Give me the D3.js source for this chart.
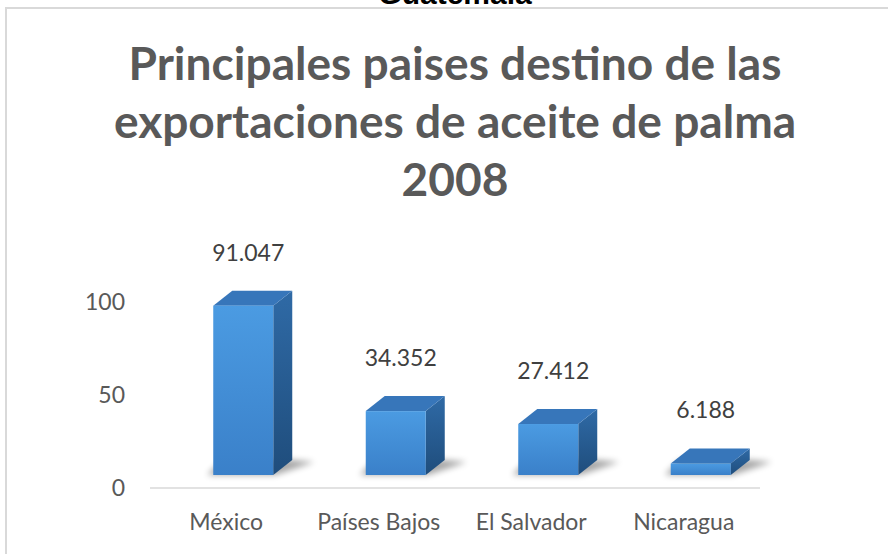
<!DOCTYPE html>
<html>
<head>
<meta charset="utf-8">
<script src="https://cdn.jsdelivr.net/npm/d3@7"></script>
<style>
  html, body { margin: 0; padding: 0; background: #fff; }
  svg { display: block; }
  text { font-family: Lato, "Open Sans", sans-serif; }
</style>
</head>
<body>
<div id="chart"></div>
<script>
// Data
const categories = ["México", "Países Bajos", "El Salvador", "Nicaragua"];
const values = [91.047, 34.352, 27.412, 6.188];
const valueLabels = ["91.047", "34.352", "27.412", "6.188"];
const yTicks = [0, 50, 100];
const titleLines = ["Principales paises destino de las", "exportaciones de aceite de palma", "2008"];
const topText = "Guatemala";

const W = 888, H = 554;
const data = categories.map((c, i) => ({cat: c, v: values[i], label: valueLabels[i]}));

const svg = d3.select("#chart").append("svg")
  .attr("width", W).attr("height", H);

const defs = svg.append("defs");
const gFront = defs.append("linearGradient").attr("id", "front")
  .attr("x1", 0).attr("y1", 0).attr("x2", 0).attr("y2", 1);
gFront.append("stop").attr("offset", "0%").attr("stop-color", "#4b9be2");
gFront.append("stop").attr("offset", "100%").attr("stop-color", "#3a80c9");
const gSide = defs.append("linearGradient").attr("id", "side")
  .attr("x1", 0).attr("y1", 0).attr("x2", 0).attr("y2", 1);
gSide.append("stop").attr("offset", "0%").attr("stop-color", "#2f6aa6");
gSide.append("stop").attr("offset", "100%").attr("stop-color", "#1f4d7c");
defs.append("filter").attr("id", "blur")
  .attr("x", "-50%").attr("y", "-50%").attr("width", "200%").attr("height", "200%")
  .append("feGaussianBlur").attr("stdDeviation", 3);

// chart frame (cut by the window on the right and bottom)
svg.append("rect")
  .attr("x", 6).attr("y", 8).attr("width", W + 20).attr("height", H + 20)
  .attr("fill", "#fff").attr("stroke", "#d9d9d9").attr("stroke-width", 2);

// text above the frame, mostly clipped
svg.append("text")
  .attr("x", 455).attr("y", 4)
  .attr("text-anchor", "middle")
  .style("font-family", "'Liberation Sans', Arial, sans-serif")
  .style("font-weight", "bold").style("font-size", "30px")
  .attr("fill", "#000")
  .text(topText);

// Title
const title = svg.append("g");
const baselines = [80, 138, 196];
const tl = title.selectAll("text").data(titleLines).enter().append("text")
  .attr("x", 455).attr("y", (d, i) => baselines[i])
  .attr("text-anchor", "middle")
  .attr("fill", "#595959")
  .style("font-weight", "bold").style("font-size", "36px")
  .text(d => d);
// fit the first line to the width seen in the picture
const w0 = tl.node().getComputedTextLength();
tl.style("font-size", (36 * 653 / w0) + "px");

// Scales
const x = d3.scaleBand().domain(categories).range([150, 760]).padding(0);
const y = d3.scaleLinear().domain([0, 100]).range([488, 302]);

// Axis line
svg.append("line")
  .attr("x1", 150).attr("x2", 760)
  .attr("y1", y(0)).attr("y2", y(0))
  .attr("stroke", "#d9d9d9").attr("stroke-width", 1.5);

// Y tick labels
svg.append("g").selectAll("text").data(yTicks).enter().append("text")
  .attr("x", 125).attr("y", d => y(d))
  .attr("dy", "0.35em")
  .attr("text-anchor", "end")
  .attr("fill", "#595959")
  .style("font-size", "23px")
  .text(d => d);

// Category labels
svg.append("g").selectAll("text").data(categories).enter().append("text")
  .attr("x", d => x(d) + x.bandwidth() / 2).attr("y", 530)
  .attr("text-anchor", "middle")
  .attr("fill", "#595959")
  .style("font-size", "23px")
  .text(d => d);

// 3D bars
const bw = 60, dx = 19, dy = 15, lift = 13, shift = 17;
const bars = svg.append("g").selectAll("g").data(data).enter().append("g");
const fx0 = d => x(d.cat) + x.bandwidth() / 2 + shift - bw / 2;
const base = y(0) - lift;
const barTop = d => y(d.v) - lift;

// floor shadow
bars.append("path")
  .attr("d", d => {
    const a = fx0(d), b = a + bw;
    return `M${a - 6},${base} L${b + 2},${base} L${b + dx + 22},${base - dy + 2} L${b + dx},${base - dy} L${a + dx - 10},${base - dy} Z`;
  })
  .attr("fill", "#000").attr("opacity", 0.35)
  .attr("filter", "url(#blur)");

// side face
bars.append("path")
  .attr("d", d => {
    const b = fx0(d) + bw;
    return `M${b},${barTop(d)} L${b + dx},${barTop(d) - dy} L${b + dx},${base - dy} L${b},${base} Z`;
  })
  .attr("fill", "url(#side)");

// top face
bars.append("path")
  .attr("d", d => {
    const a = fx0(d), b = a + bw, t = barTop(d);
    return `M${a},${t} L${a + dx},${t - dy} L${b + dx},${t - dy} L${b},${t} Z`;
  })
  .attr("fill", "#3776ba");

// front face
bars.append("rect")
  .attr("x", fx0).attr("y", barTop)
  .attr("width", bw).attr("height", d => base - barTop(d))
  .attr("fill", "url(#front)");

// value labels
bars.append("text")
  .attr("x", d => fx0(d) + bw / 2 + 5)
  .attr("y", d => barTop(d) - dy - 30)
  .attr("text-anchor", "middle")
  .attr("fill", "#404040")
  .style("font-size", "23px")
  .text(d => d.label);
</script>
</body>
</html>
